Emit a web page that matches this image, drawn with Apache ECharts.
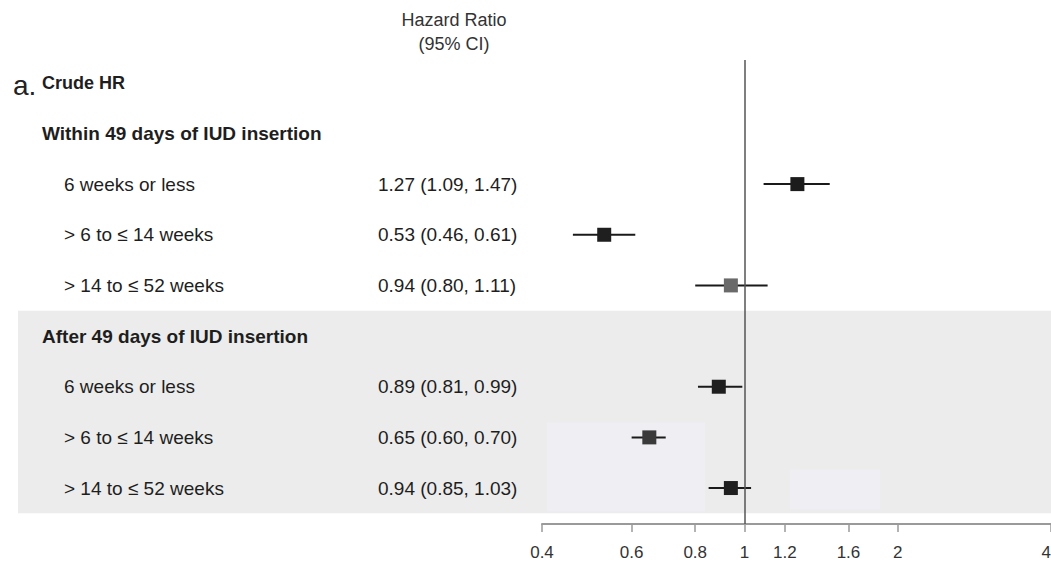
<!DOCTYPE html>
<html><head><meta charset="utf-8">
<script src="https://cdn.jsdelivr.net/npm/echarts@6/dist/echarts.min.js"></script>
<style>html,body{margin:0;padding:0;background:#fff}#c{width:1051px;height:564px}</style>
</head><body><div id="c"></div>
<script>
// ---- data ----
const panelLetter = 'a.';
const sectionTitle = 'Crude HR';
const columnHeader = ['Hazard Ratio', '(95% CI)'];
const groupLabels = ['Within 49 days of IUD insertion', 'After 49 days of IUD insertion'];
const rowLabels = ['6 weeks or less', '> 6 to \u2264 14 weeks', '> 14 to \u2264 52 weeks'];
const hazardRatio = [1.27, 0.53, 0.94, 0.89, 0.65, 0.94];
const ciLower = [1.09, 0.46, 0.80, 0.81, 0.60, 0.85];
const ciUpper = [1.47, 0.61, 1.11, 0.99, 0.70, 1.03];
const tickValues = [0.4, 0.6, 0.8, 1, 1.2, 1.6, 2, 4];

// ---- styles ----
const FONT = '"Liberation Sans", Arial, Helvetica, sans-serif';
const markerColors = ['#1c1c1c', '#1f1f1f', '#6a6a6a', '#1f1f1f', '#3a3a3a', '#1f1f1f'];
const COL_GROUP = 42, COL_ROW = 64, COL_HR = 378;

// ---- build ----
const fmt = v => v.toFixed(2);
const texts = [];
const textData = [];
function addText(str, x, row, kind) { texts.push(str); textData.push([x, row, texts.length - 1, kind]); }
addText(sectionTitle, COL_GROUP, 0, 2);
const forestData = [];
hazardRatio.forEach((hr, i) => {
  const g = Math.floor(i / 3), s = i % 3;
  const row = 2 + g * 4 + s;
  if (s === 0) addText(groupLabels[g], COL_GROUP, row - 1, 1);
  addText(rowLabels[s], COL_ROW, row, 0);
  addText(fmt(hr) + ' (' + fmt(ciLower[i]) + ', ' + fmt(ciUpper[i]) + ')', COL_HR, row, 0);
  forestData.push([Math.log(hr), row, Math.log(ciLower[i]), Math.log(ciUpper[i]), i]);
});
const textFonts = ['19px ' + FONT, 'bold 19px ' + FONT, 'bold 18px ' + FONT];

const chart = echarts.init(document.getElementById('c'), null, {renderer: 'svg'});
const yCommon = {type: 'value', inverse: true, min: -0.45, max: 8.71, show: false};
chart.setOption({
  animation: false,
  backgroundColor: '#ffffff',
  title: [
    {text: columnHeader.join('\n'), left: 449, top: 3, textAlign: 'center',
     textStyle: {fontFamily: FONT, fontSize: 18, fontWeight: 'normal', color: '#333', lineHeight: 24}},
    {text: panelLetter, left: 8, top: 66,
     textStyle: {fontFamily: FONT, fontSize: 28, fontWeight: 'normal', color: '#222'}}
  ],
  grid: [
    {left: 542, right: 0, top: 60, bottom: 40, containLabel: false, outerBoundsMode: 'none'},
    {left: 0, right: 0, top: 60, bottom: 40, containLabel: false, outerBoundsMode: 'none'}
  ],
  xAxis: [
    {type: 'value', gridIndex: 0, position: 'bottom', min: Math.log(0.4), max: Math.log(4),
     axisLine: {show: true, onZero: false, lineStyle: {color: '#9a9a9a', width: 2}},
     axisTick: {show: true, customValues: tickValues.map(Math.log), length: 8, lineStyle: {color: '#9a9a9a', width: 1.5}},
     axisLabel: {customValues: tickValues.map(Math.log), margin: 20, fontFamily: FONT, fontSize: 17, color: '#333',
                 hideOverlap: false, showMaxLabel: true, showMinLabel: true, alignMaxLabel: 'right',
                 formatter: v => String(parseFloat(Math.exp(v).toFixed(2)))},
     splitLine: {show: false}},
    {type: 'value', gridIndex: 1, min: 0, max: 1051, show: false}
  ],
  yAxis: [Object.assign({gridIndex: 0}, yCommon), Object.assign({gridIndex: 1}, yCommon)],
  series: [
    {
      type: 'custom', xAxisIndex: 1, yAxisIndex: 1, z: 1, silent: true,
      data: textData,
      renderItem: (params, api) => {
        const p = api.coord([api.value(0), api.value(1)]);
        return {type: 'text', x: p[0], y: p[1],
          style: {text: texts[api.value(2)], fill: '#1e1e1e', align: 'left', verticalAlign: 'middle',
                  font: textFonts[api.value(3)]}};
      },
      markArea: {
        silent: true,
        data: [
          [{coord: [18, 4.5], itemStyle: {color: '#ececec'}}, {coord: [1051, 8.5]}],
          [{coord: [547, 6.70], itemStyle: {color: '#eeeef3'}}, {coord: [705, 8.47]}],
          [{coord: [790, 7.64], itemStyle: {color: '#eeeef3'}}, {coord: [880, 8.43]}]
        ]
      }
    },
    {
      type: 'custom', xAxisIndex: 0, yAxisIndex: 0, z: 3, silent: true,
      data: forestData,
      renderItem: (params, api) => {
        const y = api.value(1);
        const c = api.coord([api.value(0), y]);
        const l = api.coord([api.value(2), y]);
        const h = api.coord([api.value(3), y]);
        const sz = 14;
        return {type: 'group', children: [
          {type: 'line', shape: {x1: l[0], y1: l[1], x2: h[0], y2: h[1]}, style: {stroke: '#1a1a1a', lineWidth: 2}},
          {type: 'rect', shape: {x: c[0] - sz / 2, y: c[1] - sz / 2, width: sz, height: sz}, style: {fill: markerColors[api.value(4)]}}
        ]};
      },
      markLine: {
        silent: true, symbol: 'none', label: {show: false},
        lineStyle: {color: '#555', width: 1.5, type: 'solid'},
        data: [{xAxis: 0}]
      }
    }
  ]
});
</script>
</body></html>
